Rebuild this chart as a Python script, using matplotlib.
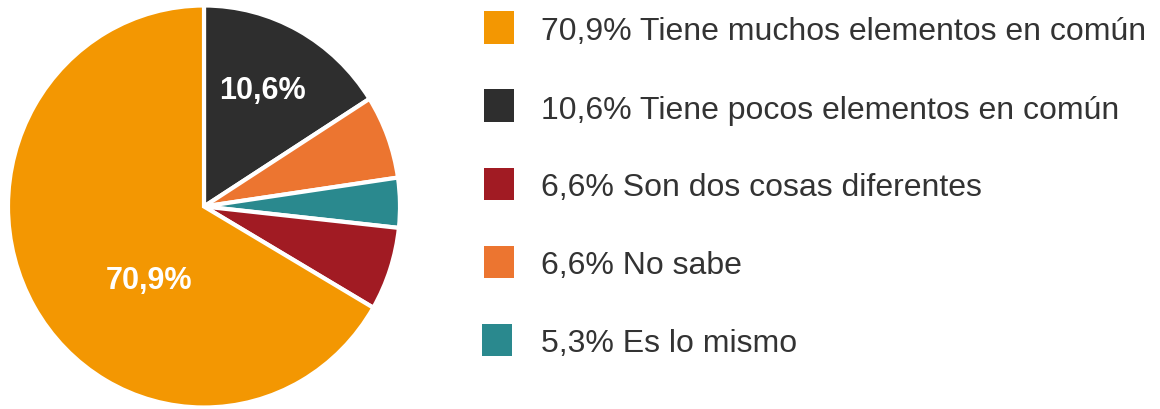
import matplotlib
matplotlib.use("Agg")
import matplotlib.pyplot as plt
from matplotlib.patches import Rectangle

# ---- data (slice shares as drawn, clockwise from 12 o'clock) ----
slice_names = ["Tiene pocos elementos en común", "No sabe", "Es lo mismo",
               "Son dos cosas diferentes", "Tiene muchos elementos en común"]
slice_values = [16.0, 6.7, 4.0, 6.7, 66.6]
slice_colors = ["#2E2E2E", "#EC7530", "#2A898E", "#A11B23", "#F39702"]

# ---- legend (as shown) ----
legend_labels = ["70,9% Tiene muchos elementos en común",
                 "10,6% Tiene pocos elementos en común",
                 "6,6% Son dos cosas diferentes",
                 "6,6% No sabe",
                 "5,3% Es lo mismo"]
legend_colors = ["#F39702", "#2E2E2E", "#A11B23", "#EC7530", "#2A898E"]

# ---- labels inside the pie ----
inner_labels = ["10,6%", "70,9%"]

W, H = 1160, 409
fig = plt.figure(figsize=(W / 100, H / 100), dpi=100)
fig.patch.set_facecolor("white")

FONT = ["Liberation Sans", "DejaVu Sans"]

# pie axes (slightly elliptical like the reference)
cx, cy, rx, ry = 204, 206.5, 196, 201
ax = fig.add_axes([(cx - rx) / W, (H - cy - ry) / H, 2 * rx / W, 2 * ry / H])
ax.pie(slice_values, colors=slice_colors, startangle=90, counterclock=False,
       radius=1.0, wedgeprops=dict(edgecolor="white", linewidth=3.0))
ax.set_xlim(-1, 1)
ax.set_ylim(-1, 1)
ax.set_aspect("auto")
ax.axis("off")

ax.text(0.30, 0.575, inner_labels[0], color="white", fontsize=22,
        fontweight="bold", ha="center", va="center", family=FONT)
ax.text(-0.28, -0.37, inner_labels[1], color="white", fontsize=22,
        fontweight="bold", ha="center", va="center", family=FONT)

# legend drawn in pixel layout
row0, step = 27.5, 78
sq_w, sq_h = 30, 32
for i, (lab, col) in enumerate(zip(legend_labels, legend_colors)):
    yc = row0 + i * step
    x0 = 484 if i < 4 else 482
    fig.patches.append(Rectangle((x0 / W, (H - yc - sq_h / 2) / H), sq_w / W, sq_h / H,
                                 transform=fig.transFigure, facecolor=col,
                                 edgecolor="none"))
    fig.text(541 / W, (H - (yc + 13)) / H, lab, fontsize=23, color="#333333",
             ha="left", va="baseline", family=FONT)

fig.savefig("out.png", dpi=100, facecolor="white")
